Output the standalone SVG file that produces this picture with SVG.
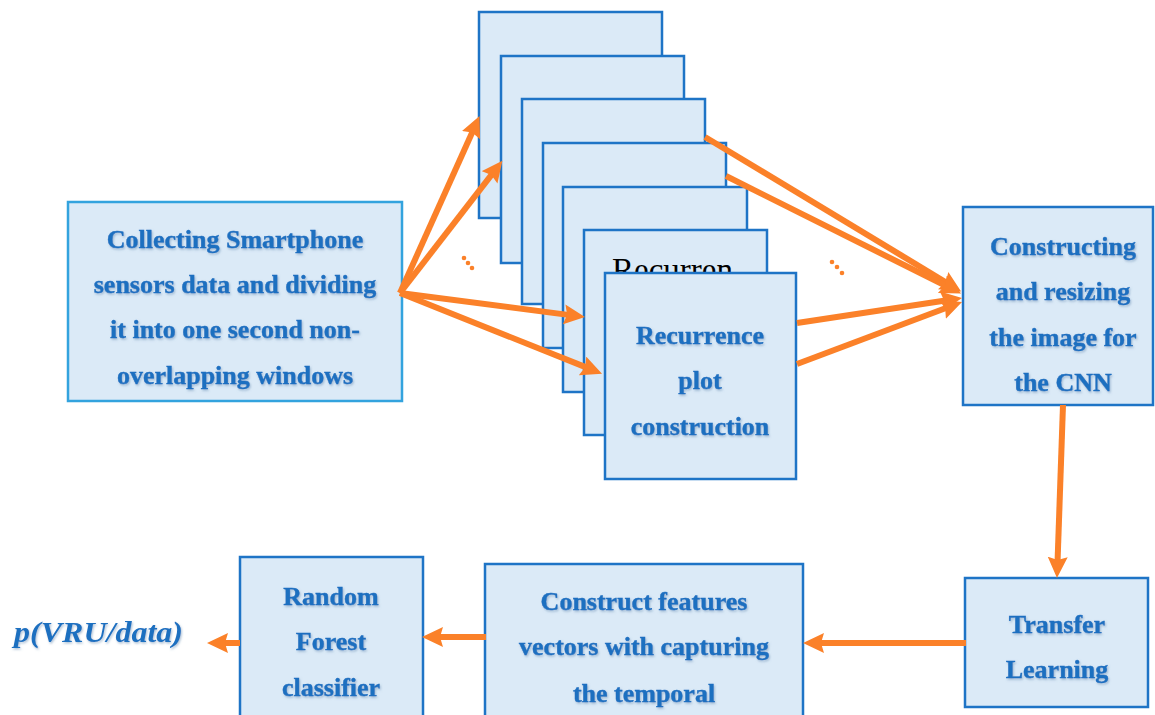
<svg xmlns="http://www.w3.org/2000/svg" width="1155" height="715" viewBox="0 0 1155 715">
<defs>
<style>
.box{fill:#dbeaf7;stroke:#1e74c6;stroke-width:2.5}
.boxl{fill:#dbeaf7;stroke:#33a3de;stroke-width:2.5}
.t{font-family:"Liberation Serif","Times New Roman",serif;font-weight:bold;font-size:26px;fill:#1f6fc0;stroke:#1f6fc0;stroke-width:0.4;text-anchor:middle;filter:url(#sh)}
.c{fill:none;stroke:#fb8129;stroke-width:6;marker-end:url(#ah)}
.dot{fill:#fb8129}
</style>
<filter id="sh" x="-10%" y="-30%" width="120%" height="160%">
<feDropShadow dx="1" dy="1.5" stdDeviation="1.2" flood-color="#6a8fb3" flood-opacity="0.55"/>
</filter>
<marker id="ah" markerUnits="userSpaceOnUse" markerWidth="24" markerHeight="22" refX="6" refY="10" orient="auto">
<path d="M0,0 L21,10 L0,20 L3,10 z" fill="#fb8129"/>
</marker>
</defs>
<rect width="1155" height="715" fill="#ffffff"/>

<g id="collect">
<rect class="boxl" x="68" y="202" width="334" height="199"/>
<text class="t" x="235" y="248">Collecting Smartphone</text>
<text class="t" x="235" y="293">sensors data and dividing</text>
<text class="t" x="235" y="338">it into one second non-</text>
<text class="t" x="235" y="384">overlapping windows</text>
</g>

<g id="stack">
<rect class="box" x="479" y="12" width="183" height="206"/>
<rect class="box" x="501" y="56" width="183" height="207"/>
<rect class="box" x="522" y="99" width="183" height="205"/>
<rect class="box" x="543" y="143" width="183" height="205"/>
<rect class="box" x="563" y="187" width="184" height="205"/>
<rect class="box" x="584" y="230" width="183" height="205"/>
<text x="612" y="281" font-family="Liberation Serif, serif" font-size="33" fill="#000">Recurren</text>
</g>

<g id="recurrence">
<rect class="box" x="605" y="273" width="191" height="206"/>
<text class="t" x="700" y="344">Recurrence</text>
<text class="t" x="700" y="389">plot</text>
<text class="t" x="700" y="435">construction</text>
</g>

<g id="constructing">
<rect class="box" x="963" y="207" width="190" height="198"/>
<text class="t" x="1063" y="255">Constructing</text>
<text class="t" x="1063" y="300">and resizing</text>
<text class="t" x="1063" y="346">the image for</text>
<text class="t" x="1063" y="391">the CNN</text>
</g>

<g id="transfer">
<rect class="box" x="965" y="578" width="183" height="129"/>
<text class="t" x="1057" y="633">Transfer</text>
<text class="t" x="1057" y="678">Learning</text>
</g>

<g id="features">
<rect class="box" x="485" y="564" width="318" height="160"/>
<text class="t" x="644" y="610">Construct features</text>
<text class="t" x="644" y="655">vectors with capturing</text>
<text class="t" x="644" y="702">the temporal</text>
</g>

<g id="randomforest">
<rect class="box" x="240" y="557" width="183" height="167"/>
<text class="t" x="331" y="605">Random</text>
<text class="t" x="331" y="650">Forest</text>
<text class="t" x="331" y="696">classifier</text>
</g>

<g id="output">
<text x="14" y="642" font-family="Liberation Serif, serif" font-style="italic" font-weight="bold" font-size="29" fill="#1f6fc0" textLength="169" lengthAdjust="spacingAndGlyphs" filter="url(#sh)">p(VRU/data)</text>
</g>

<g id="connectors">
<line class="c" x1="400" y1="293" x2="473.4" y2="129.7"/>
<line class="c" x1="400" y1="293" x2="493.2" y2="172.6"/>
<line class="c" x1="400" y1="293" x2="570.1" y2="315.1"/>
<line class="c" x1="400" y1="293" x2="588.1" y2="368.1"/>
<line class="c" x1="705" y1="137" x2="948.3" y2="283.7"/>
<line class="c" x1="726" y1="176" x2="947.7" y2="286.8"/>
<line class="c" x1="797" y1="323" x2="947.2" y2="300.3"/>
<line class="c" x1="797" y1="364" x2="948.0" y2="307.3"/>
<line class="c" x1="1063" y1="405" x2="1057.5" y2="563"/>
<line class="c" x1="966" y1="643" x2="818" y2="643"/>
<line class="c" x1="486" y1="637" x2="437" y2="637"/>
<line class="c" x1="240" y1="643" x2="222" y2="643"/>
<circle class="dot" cx="464" cy="258" r="2.3"/>
<circle class="dot" cx="468" cy="263" r="2.3"/>
<circle class="dot" cx="472" cy="268" r="2.3"/>
<circle class="dot" cx="832" cy="262" r="2.3"/>
<circle class="dot" cx="837" cy="267" r="2.3"/>
<circle class="dot" cx="842" cy="273" r="2.3"/>
</g>
</svg>
